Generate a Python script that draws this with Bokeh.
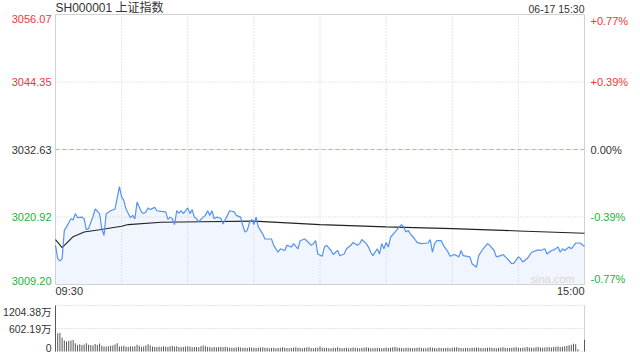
from bokeh.plotting import figure
from bokeh.models import Range1d, Label
from bokeh.layouts import column
from bokeh.embed import file_html
from bokeh.resources import INLINE

# ---------------- data ----------------
title_text = "SH000001 上证指数"
stamp_text = "06-17 15:30"
prev_close = 3032.63
price_ticks = [3056.07, 3044.35, 3032.63, 3020.92, 3009.20]
price_tick_labels = ["3056.07", "3044.35", "3032.63", "3020.92", "3009.20"]
pct_labels = ["+0.77%", "+0.39%", "0.00%", "-0.39%", "-0.77%"]
time_ticks = [0, 240]
time_labels = ["09:30", "15:00"]
grid_minutes = [30, 60, 90, 120, 150, 180, 210]
vol_ticks = [1204.38, 602.19, 0]
vol_tick_labels = ["1204.38万", "602.19万", "0"]

price_minute = [0, 1, 2, 3, 4, 5, 7, 8, 9, 10, 12, 13, 14, 15, 17, 18, 20, 21, 22, 23,
                25, 27, 29, 30, 31, 32, 34, 35, 36, 37, 39, 40, 41, 42, 43, 45, 46, 48, 50, 51,
                52, 53, 54, 55, 56, 57, 58, 60, 61, 62, 63, 64, 65, 67, 68, 69, 70, 71, 72, 73,
                75, 76, 78, 79, 81, 82, 84, 85, 86, 87, 88, 89, 90, 91, 92, 94, 95, 98, 99, 101,
                102, 104, 105, 107, 108, 110, 111, 113, 114, 116, 117, 118, 119, 121, 122, 123, 125, 126, 128, 129,
                131, 132, 134, 135, 137, 138, 139, 141, 142, 143, 144, 146, 147, 148, 149, 150, 151, 152, 154, 156,
                157, 158, 159, 160, 161, 163, 164, 166, 169, 170, 171, 172, 173, 175, 176, 178, 179, 181, 183, 184,
                185, 188, 189, 191, 192, 194, 196, 197, 199, 200, 202, 203, 205, 207, 208, 210, 211, 212, 214, 216,
                219, 220, 222, 223, 225, 226, 228, 229, 230, 231, 233, 234, 236, 238, 240]
price_value = [3016.0, 3013.7, 3013.3, 3013.7, 3018.6, 3019.2, 3020.6, 3020.4, 3021.5, 3020.8,
               3020.9, 3020.6, 3018.7, 3018.9, 3021.0, 3022.3, 3021.5, 3018.9, 3017.7, 3021.5,
               3022.0, 3022.3, 3026.2, 3024.4, 3023.8, 3022.3, 3020.8, 3021.2, 3020.6, 3023.5,
               3021.8, 3021.5, 3021.8, 3022.5, 3022.2, 3022.6, 3022.0, 3021.9, 3021.8, 3020.5,
               3020.9, 3020.6, 3019.6, 3022.0, 3021.6, 3022.0, 3021.5, 3022.5, 3021.5, 3022.2,
               3020.9, 3020.6, 3020.1, 3020.9, 3021.2, 3022.0, 3021.2, 3022.0, 3020.6, 3020.9,
               3020.7, 3019.7, 3021.2, 3022.0, 3021.8, 3021.2, 3020.9, 3019.4, 3018.3, 3018.6,
               3020.0, 3020.5, 3019.6, 3020.9, 3019.2, 3018.0, 3017.1, 3017.1, 3016.0, 3014.8,
               3015.4, 3015.1, 3016.0, 3015.7, 3016.3, 3015.4, 3016.8, 3017.1, 3016.8, 3016.0,
               3016.3, 3016.8, 3014.5, 3014.1, 3015.7, 3016.0, 3015.1, 3014.4, 3015.1, 3014.2,
               3014.5, 3015.4, 3016.0, 3016.5, 3016.0, 3016.3, 3017.0, 3016.3, 3015.7, 3014.8,
               3014.2, 3015.4, 3014.5, 3016.3, 3015.4, 3016.5, 3015.7, 3017.4, 3018.3, 3019.2,
               3019.6, 3019.2, 3018.3, 3018.6, 3018.0, 3017.1, 3016.5, 3016.3, 3016.4, 3017.0,
               3014.8, 3016.3, 3016.8, 3016.8, 3016.0, 3014.9, 3014.1, 3014.4, 3014.0, 3015.1,
               3014.2, 3014.0, 3012.8, 3012.2, 3014.2, 3015.4, 3016.3, 3016.0, 3015.1, 3014.0,
               3014.2, 3014.4, 3013.7, 3012.8, 3012.9, 3014.0, 3013.7, 3013.1, 3013.7, 3014.8,
               3015.2, 3015.1, 3015.4, 3014.5, 3015.1, 3015.2, 3015.7, 3014.8, 3015.4, 3015.1,
               3015.7, 3015.4, 3016.4, 3016.4, 3015.8]

avg_minute = [0, 3, 8, 13, 20, 30, 33, 48, 66, 90, 120, 150, 180, 210, 240]
avg_value = [3017.0, 3015.6, 3017.5, 3018.3, 3018.7, 3019.3, 3019.6, 3020.0, 3020.1,
             3020.2, 3019.6, 3019.2, 3018.9, 3018.5, 3018.1]

volume = [
    1204, 475, 490, 360, 285, 260, 275, 285, 300, 215,
    170, 190, 172, 185, 215, 180, 170, 155, 195, 170,
    210, 150, 130, 128, 135, 150, 160, 185, 215, 130,
    140, 150, 125, 120, 135, 128, 140, 175, 150, 120,
    130, 155, 190, 160, 130, 115, 120, 125, 118, 140,
    122, 118, 130, 150, 125, 135, 120, 110, 115, 128,
    140, 125, 110, 118, 120, 112, 135, 160, 140, 120,
    110, 105, 115, 108, 120, 118, 110, 125, 112, 100,
    95, 98, 108, 120, 105, 100, 95, 92, 110, 102,
    98, 90, 96, 105, 112, 100, 95, 88, 90, 100,
    85, 92, 98, 110, 95, 90, 86, 94, 100, 112,
    95, 90, 88, 96, 104, 110, 92, 88, 95, 100,
    130, 95, 90, 100, 85, 88, 96, 90, 110, 92,
    85, 90, 98, 88, 92, 105, 95, 88, 84, 90,
    100, 112, 95, 88, 85, 92, 98, 90, 86, 94,
    102, 90, 96, 110, 120, 105, 98, 92, 88, 95,
    100, 92, 86, 90, 96, 104, 92, 85, 88, 95,
    110, 100, 92, 88, 96, 90, 85, 92, 98, 88,
    95, 105, 112, 100, 92, 88, 94, 90, 86, 95,
    100, 108, 96, 90, 88, 92, 98, 105, 95, 90,
    88, 96, 100, 110, 98, 92, 90, 96, 104, 112,
    100, 94, 98, 106, 115, 102, 96, 100, 110, 118,
    105, 98, 104, 112, 120, 108, 115, 125, 130, 118,
    125, 140, 150, 165, 180, 200, 190, 60, 5, 5,
    310,
]
vol_minute = list(range(len(volume)))

# ---------------- style / layout ----------------
FONT = "Liberation Sans, Noto Sans CJK SC, sans-serif"
RED = "#f23535"
GREEN = "#26b03a"
DARK = "#333333"
GRID = "#cccccc"
BORDER = "#d2d2d2"
N_MIN = 240

W = 632
BOX_L, BOX_R = 55, 584            # plot box, canvas pixels
H1, BOX_T1, BOX_B1 = 297, 14, 284  # price panel
H2, BOX_T2, BOX_B2 = 55, 8, 54     # volume panel

xs = (BOX_R - BOX_L) / N_MIN
x_range = Range1d(-BOX_L / xs, N_MIN + (W - BOX_R) / xs)

p_top, p_bot = price_ticks[0], price_ticks[-1]
ys1 = (BOX_B1 - BOX_T1) / (p_top - p_bot)
y_range1 = Range1d(p_bot - (H1 - BOX_B1) / ys1, p_top + BOX_T1 / ys1)

v_top = vol_ticks[0]
ys2 = (BOX_B2 - BOX_T2) / v_top
y_range2 = Range1d(0 - (H2 - BOX_B2) / ys2, v_top + BOX_T2 / ys2)


def base_fig(h, yr):
    f = figure(width=W, height=h, x_range=x_range, y_range=yr,
               x_axis_type=None, y_axis_type=None,
               output_backend="svg", toolbar_location=None,
               min_border_left=0, min_border_right=0, min_border_top=0, min_border_bottom=0)
    f.outline_line_color = None
    f.background_fill_color = "white"
    f.border_fill_color = "white"
    f.grid.visible = False
    return f


# ---------------- price panel ----------------
p = base_fig(H1, y_range1)

p.varea(x=price_minute, y1=p_bot, y2=price_value, fill_color="#eef4fe", fill_alpha=0.9)

p.segment(x0=grid_minutes, y0=p_bot, x1=grid_minutes, y1=p_top,
          line_color=GRID, line_dash="1 2", line_width=1)
mid_ticks = price_ticks[1:-1]
p.segment(x0=0, y0=mid_ticks, x1=N_MIN, y1=mid_ticks,
          line_color=GRID, line_dash="1 2", line_width=1)
p.segment(x0=0, y0=prev_close, x1=N_MIN, y1=prev_close,
          line_color="#f4a260", line_dash="4 3", line_width=1)
p.quad(left=0, right=N_MIN, bottom=p_bot, top=p_top, fill_color=None,
       line_color=BORDER, line_width=1)

p.line(avg_minute, avg_value, line_color="#222222", line_width=1.1)
p.line(price_minute, price_value, line_color="#5592f2", line_width=1.2)

colors = [RED, RED, DARK, GREEN, GREEN]
baselines = ["top", "middle", "middle", "middle", "bottom"]
for t, lab, pct, c, b in zip(price_ticks, price_tick_labels, pct_labels, colors, baselines):
    p.add_layout(Label(x=0, y=t, x_offset=-4, text=lab, text_align="right",
                       text_baseline=b, text_color=c, text_font_size="11px", text_font=FONT))
    p.add_layout(Label(x=N_MIN, y=t, x_offset=6, text=pct, text_align="left",
                       text_baseline=b, text_color=c, text_font_size="11px", text_font=FONT))

p.add_layout(Label(x=0, y=p_top, text=title_text, text_align="left",
                   text_baseline="bottom", text_color=DARK, text_font_size="12px", text_font=FONT))
p.add_layout(Label(x=N_MIN, y=p_top, text=stamp_text, text_align="right",
                   text_baseline="bottom", text_color=DARK, text_font_size="10.5px", text_font=FONT))
for tm, tl, al in zip(time_ticks, time_labels, ["left", "right"]):
    p.add_layout(Label(x=tm, y=p_bot, text=tl, text_align=al,
                       text_baseline="top", text_color=DARK, text_font_size="11px", text_font=FONT))
p.add_layout(Label(x=N_MIN, y=p_bot, x_offset=-10, text="sina.com", text_align="right",
                   text_baseline="bottom", text_color="#d8d8d8", text_font_size="11px", text_font=FONT))

# ---------------- volume panel ----------------
v = base_fig(H2, y_range2)
v.segment(x0=0, y0=vol_ticks[:2], x1=N_MIN, y1=vol_ticks[:2],
          line_color=GRID, line_dash="1 2", line_width=1)
v.segment(x0=[0, N_MIN], y0=0, x1=[0, N_MIN], y1=v_top, line_color=BORDER, line_width=1)

v.vbar(x=vol_minute, top=volume, bottom=0, width=0.45, fill_color="#555555",
       line_color=None)

for t, lab, b in zip(vol_ticks, vol_tick_labels, ["top", "middle", "bottom"]):
    v.add_layout(Label(x=0, y=t, x_offset=-4, text=lab, text_align="right",
                       text_baseline=b, text_color=DARK, text_font_size="10.5px", text_font=FONT))

layout = column(p, v, spacing=0)
open("out.html", "w").write(file_html(layout, INLINE))
